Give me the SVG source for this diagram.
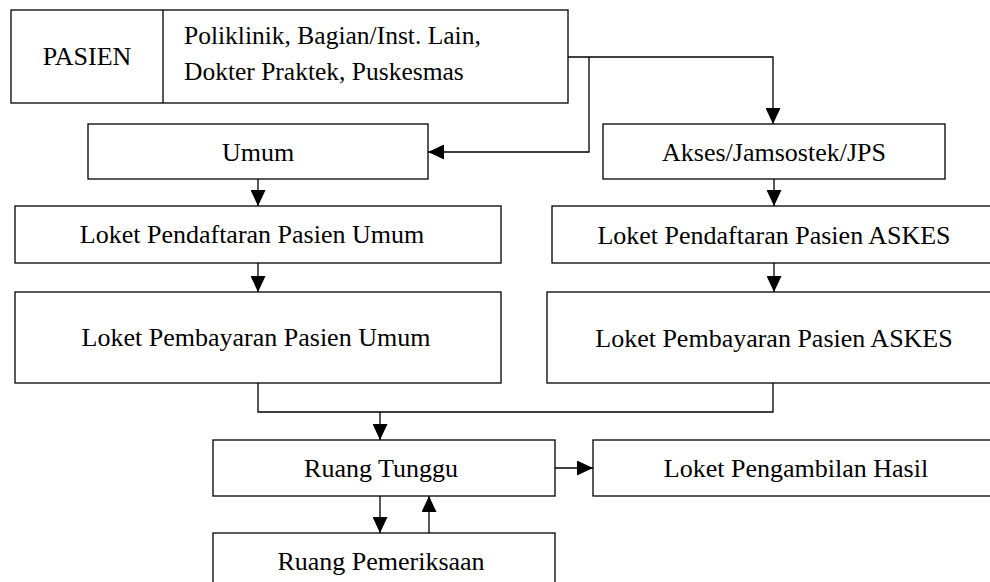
<svg xmlns="http://www.w3.org/2000/svg" width="990" height="582" viewBox="0 0 990 582">
<style>
.box{fill:#fff;stroke:#000;stroke-width:1.3}
.t{font-family:'Times New Roman','Liberation Serif',Tinos,Times,serif;font-size:26px;fill:#000;text-anchor:middle}
.tl{font-family:'Times New Roman','Liberation Serif',Tinos,Times,serif;font-size:25.5px;fill:#000}
.c{fill:none;stroke:#000;stroke-width:1.3}
</style>
<defs>
<marker id="ah" markerUnits="userSpaceOnUse" markerWidth="16" markerHeight="15" refX="16" refY="7.5" orient="auto">
<path d="M0,0 L16,7.5 L0,15 z" fill="#000"/>
</marker>
</defs>
<rect width="990" height="582" fill="#fff"/>
<g id="connectors">
<path class="c" d="M568,57 H773 V124" marker-end="url(#ah)"/>
<path class="c" d="M589,57 V152 H428" marker-end="url(#ah)"/>
<path class="c" d="M258,179 V206" marker-end="url(#ah)"/>
<path class="c" d="M258,263 V292" marker-end="url(#ah)"/>
<path class="c" d="M774,179 V206" marker-end="url(#ah)"/>
<path class="c" d="M774,263 V292" marker-end="url(#ah)"/>
<path class="c" d="M258,383 V412 H773 V383"/>
<path class="c" d="M380,412 V440" marker-end="url(#ah)"/>
<path class="c" d="M555,468 H593" marker-end="url(#ah)"/>
<path class="c" d="M380,496 V533" marker-end="url(#ah)"/>
<path class="c" d="M429,533 V496" marker-end="url(#ah)"/>
</g>
<g id="pasien">
<rect class="box" x="11" y="10" width="557" height="93"/>
<line class="c" x1="163" y1="10" x2="163" y2="103"/>
<text class="t" x="87" y="65">PASIEN</text>
<text class="tl" x="184" y="44">Poliklinik, Bagian/Inst. Lain,</text>
<text class="tl" x="184" y="80">Dokter Praktek, Puskesmas</text>
</g>
<g id="umum">
<rect class="box" x="88" y="124" width="340" height="55"/>
<text class="t" x="258" y="161">Umum</text>
</g>
<g id="akses">
<rect class="box" x="603" y="124" width="342" height="55"/>
<text class="t" x="774" y="161">Akses/Jamsostek/JPS</text>
</g>
<g id="loket-pendaftaran-umum">
<rect class="box" x="15" y="206" width="486" height="57"/>
<text class="t" x="252" y="243">Loket Pendaftaran Pasien Umum</text>
</g>
<g id="loket-pembayaran-umum">
<rect class="box" x="15" y="292" width="486" height="91"/>
<text class="t" x="256" y="346">Loket Pembayaran Pasien Umum</text>
</g>
<g id="loket-pendaftaran-askes">
<rect class="box" x="552" y="206" width="450" height="57"/>
<text class="t" x="774" y="244">Loket Pendaftaran Pasien ASKES</text>
</g>
<g id="loket-pembayaran-askes">
<rect class="box" x="547" y="292" width="460" height="91"/>
<text class="t" x="774" y="347">Loket Pembayaran Pasien ASKES</text>
</g>
<g id="ruang-tunggu">
<rect class="box" x="213" y="440" width="342" height="56"/>
<text class="t" x="381" y="477">Ruang Tunggu</text>
</g>
<g id="loket-pengambilan-hasil">
<rect class="box" x="593" y="440" width="410" height="56"/>
<text class="t" x="796" y="477">Loket Pengambilan Hasil</text>
</g>
<g id="ruang-pemeriksaan">
<rect class="box" x="213" y="533" width="342" height="60"/>
<text class="t" x="381" y="570">Ruang Pemeriksaan</text>
</g>
</svg>
